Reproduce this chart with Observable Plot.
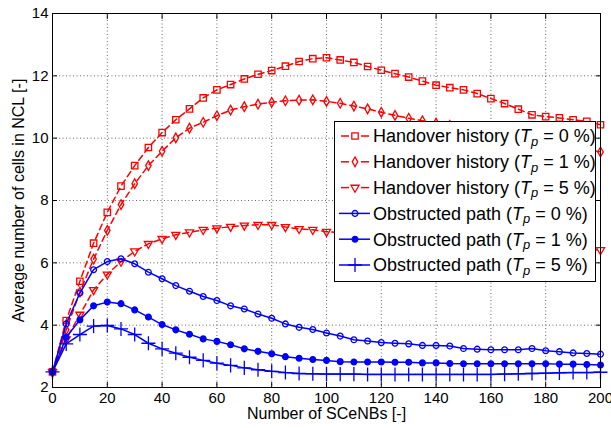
<!DOCTYPE html>
<html>
<head>
<meta charset="utf-8">
<script src="https://cdn.jsdelivr.net/npm/d3@7"></script>
<script src="https://cdn.jsdelivr.net/npm/@observablehq/plot@0.6"></script>
<style>
  html, body { margin: 0; padding: 0; background: #fff; }
  #chart svg { display: block; }
</style>
</head>
<body>
<div id="chart"></div>
<script>
// Number of small-cell eNBs simulated
const nodes = [0, 5, 10, 15, 20, 25, 30, 35, 40, 45, 50, 55, 60, 65, 70, 75, 80, 85, 90, 95,
  100, 105, 110, 115, 120, 125, 130, 135, 140, 145, 150, 155, 160, 165, 170, 175, 180, 185, 190, 195, 200];

// Average NCL size, handover-history method
const handoverTp0 = [2.5, 4.15, 5.41, 6.63, 7.62, 8.46, 9.12, 9.70, 10.18, 10.59,
  10.94, 11.29, 11.55, 11.72, 11.90, 12.05, 12.17, 12.31, 12.46, 12.55,
  12.58, 12.51, 12.43, 12.30, 12.18, 12.07, 11.96, 11.83, 11.70, 11.62,
  11.55, 11.43, 11.27, 11.11, 10.93, 10.75, 10.69, 10.65, 10.59, 10.54, 10.43];
const handoverTp1 = [2.5, 3.85, 5.06, 6.12, 7.04, 7.87, 8.54, 9.12, 9.58, 10.01,
  10.32, 10.51, 10.72, 10.90, 11.01, 11.09, 11.15, 11.20, 11.22, 11.23,
  11.18, 11.12, 11.03, 10.94, 10.83, 10.73, 10.64, 10.56, 10.48, 10.41,
  10.33, 10.26, 10.18, 10.10, 10.03, 9.95, 9.87, 9.79, 9.71, 9.64, 9.56];
const handoverTp5 = [2.5, 3.55, 4.34, 5.13, 5.63, 6.04, 6.37, 6.61, 6.77, 6.90,
  6.98, 7.06, 7.11, 7.16, 7.20, 7.22, 7.22, 7.15, 7.09, 7.06,
  7.00, 6.97, 6.93, 6.90, 6.86, 6.83, 6.79, 6.75, 6.72, 6.68,
  6.65, 6.62, 6.59, 6.56, 6.54, 6.51, 6.49, 6.47, 6.45, 6.43, 6.41];

// Average NCL size, obstructed-path method
const obstructedTp0 = [2.5, 4.04, 5.03, 5.78, 6.04, 6.13, 5.97, 5.70, 5.49, 5.27,
  5.09, 4.92, 4.79, 4.62, 4.52, 4.36, 4.22, 4.04, 3.93, 3.86,
  3.75, 3.65, 3.53, 3.49, 3.44, 3.42, 3.40, 3.35, 3.35, 3.33,
  3.25, 3.23, 3.21, 3.21, 3.21, 3.25, 3.18, 3.15, 3.11, 3.09, 3.07];
const obstructedTp1 = [2.5, 3.61, 4.17, 4.62, 4.74, 4.69, 4.49, 4.26, 4.02, 3.85,
  3.71, 3.56, 3.48, 3.37, 3.24, 3.16, 3.08, 2.99, 2.94, 2.90,
  2.87, 2.83, 2.82, 2.82, 2.82, 2.81, 2.81, 2.79, 2.79, 2.77,
  2.76, 2.76, 2.76, 2.76, 2.76, 2.76, 2.76, 2.75, 2.75, 2.74, 2.72];
const obstructedTp5 = [2.5, 3.40, 3.70, 3.97, 3.99, 3.88, 3.70, 3.42, 3.24, 3.10,
  2.97, 2.87, 2.78, 2.71, 2.63, 2.57, 2.52, 2.48, 2.45, 2.44,
  2.43, 2.43, 2.43, 2.42, 2.42, 2.42, 2.42, 2.42, 2.42, 2.42,
  2.42, 2.42, 2.42, 2.43, 2.44, 2.45, 2.46, 2.47, 2.48, 2.48, 2.49];

const methods = ["Handover history", "Handover history", "Handover history",
  "Obstructed path", "Obstructed path", "Obstructed path"];
const tpLevels = ["0", "1", "5", "0", "1", "5"];

const xTicks = [0, 20, 40, 60, 80, 100, 120, 140, 160, 180, 200];
const yTicks = [2, 4, 6, 8, 10, 12, 14];

const RED = "#ff0000", BLUE = "#0000ff";
const FONT = "'Liberation Sans', Arial, sans-serif";

// Drawing style of each curve
const series = [
  {values: handoverTp0, color: RED, dash: "6,4", symbol: "square", r: 3.6, fill: "none", rotate: 0},
  {values: handoverTp1, color: RED, dash: "6,4", symbol: "diamond", r: 2.9, fill: "none", rotate: 0},
  {values: handoverTp5, color: RED, dash: "6,4", symbol: "triangle", r: 3.0, fill: "none", rotate: 180},
  {values: obstructedTp0, color: BLUE, dash: null, symbol: "circle", r: 2.9, fill: "none", rotate: 0},
  {values: obstructedTp1, color: BLUE, dash: null, symbol: "circle", r: 2.9, fill: BLUE, rotate: 0},
  {values: obstructedTp5, color: BLUE, dash: null, symbol: "plus", r: 4.6, fill: "none", rotate: 0}
].map((s, i) => ({...s, method: methods[i], tp: tpLevels[i],
  data: nodes.map((n, j) => ({n, v: s.values[j]}))}));

const gridStyle = {stroke: "#000", strokeOpacity: 0.6, strokeDasharray: "1,2.5"};

const marks = [
  Plot.gridX(xTicks.slice(1, -1), gridStyle),
  Plot.gridY(yTicks.slice(1, -1), gridStyle)
];
for (const s of series) {
  marks.push(Plot.line(s.data, {x: "n", y: "v", stroke: s.color, strokeWidth: 1.5,
    strokeDasharray: s.dash, curve: "linear"}));
  marks.push(Plot.dot(s.data, {x: "n", y: "v", symbol: () => s.symbol, r: s.r,
    stroke: s.color, strokeWidth: 1.3, fill: s.fill, rotate: s.rotate}));
}
marks.push(
  Plot.frame({stroke: "#000"}),
  // inward ticks on all four sides
  Plot.axisX(xTicks, {anchor: "bottom", tickSize: -5, text: null, label: null}),
  Plot.axisX(xTicks, {anchor: "top", tickSize: -5, text: null, label: null}),
  Plot.axisY(yTicks, {anchor: "left", tickSize: -5, text: null, label: null}),
  Plot.axisY(yTicks, {anchor: "right", tickSize: -5, text: null, label: null}),
  // tick labels
  Plot.axisX(xTicks, {anchor: "bottom", tickSize: 0, tickPadding: 5, label: null, fontSize: 15}),
  Plot.axisY(yTicks, {anchor: "left", tickSize: 0, tickPadding: 4, label: null, fontSize: 15}),
  // axis titles
  Plot.text(["Number of SCeNBs [-]"], {frameAnchor: "bottom", dy: 26, fontSize: 16,
    textAnchor: "middle", lineAnchor: "middle"}),
  Plot.text(["Average number of cells in NCL [-]"], {frameAnchor: "left", dx: -34, rotate: -90,
    fontSize: 16, textAnchor: "middle", lineAnchor: "middle"})
);

const chart = Plot.plot({
  width: 611,
  height: 428,
  marginLeft: 52,
  marginRight: 11,
  marginTop: 13,
  marginBottom: 41,
  style: {fontFamily: FONT, fontSize: "15px", color: "#000", background: "#fff"},
  x: {domain: [0, 200]},
  y: {domain: [2, 14]},
  marks
});

// Legend box in the upper right of the axes
const svg = d3.select(chart);
const lg = svg.append("g").attr("font-family", FONT).attr("font-size", 18).attr("text-anchor", "start");
const box = {x: 334.5, y: 121.5, w: 261, h: 160};
lg.append("rect").attr("x", box.x).attr("y", box.y).attr("width", box.w).attr("height", box.h)
  .attr("fill", "#fff").attr("stroke", "#000");
const symbolTypes = {square: d3.symbolSquare, diamond: d3.symbolDiamond, triangle: d3.symbolTriangle,
  circle: d3.symbolCircle, plus: d3.symbolPlus};
series.forEach((s, i) => {
  const cy = 136 + i * 25.8;
  const row = lg.append("g");
  if (s.dash) {
    row.append("line").attr("x1", 341).attr("x2", 349).attr("y1", cy).attr("y2", cy)
      .attr("stroke", s.color).attr("stroke-width", 1.5);
    row.append("line").attr("x1", 361).attr("x2", 369).attr("y1", cy).attr("y2", cy)
      .attr("stroke", s.color).attr("stroke-width", 1.5);
  } else {
    row.append("line").attr("x1", 339).attr("x2", 370).attr("y1", cy).attr("y2", cy)
      .attr("stroke", s.color).attr("stroke-width", 1.5);
  }
  row.append("path")
    .attr("d", d3.symbol(symbolTypes[s.symbol], Math.PI * s.r * s.r)())
    .attr("transform", `translate(355,${cy}) rotate(${s.rotate})`)
    .attr("fill", s.fill).attr("stroke", s.color).attr("stroke-width", 1.3);
  const t = row.append("text").attr("x", 373).attr("y", cy).attr("dy", "0.36em")
    .attr("fill", "#000").attr("text-anchor", "start");
  t.append("tspan").text(`${s.method} (`);
  t.append("tspan").attr("font-style", "italic").text("T");
  t.append("tspan").attr("font-style", "italic").attr("font-size", "0.72em").attr("dy", "0.25em").text("p");
  t.append("tspan").attr("dy", "-0.18em").text(` = ${s.tp} %)`);
});

document.getElementById("chart").appendChild(chart);
</script>
</body>
</html>
